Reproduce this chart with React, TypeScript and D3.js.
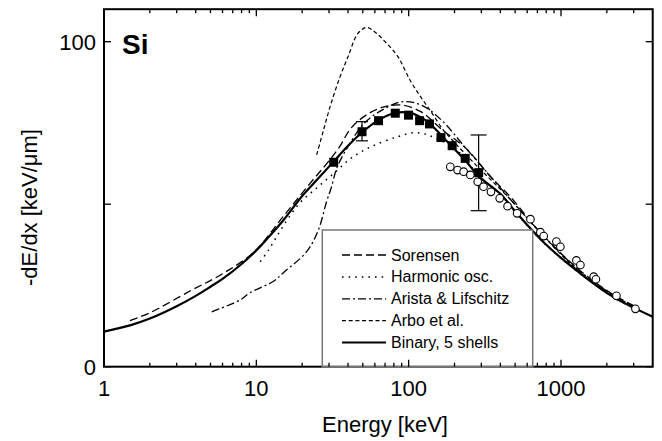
import React from 'react';
import * as d3 from 'd3';

// ---- data (energy in keV, stopping power in keV/µm) ----
const xTickLabels = [1, 10, 100, 1000];
const yTickLabels = [0, 100];
const yMinorTicks = [50];

const binary: [number, number][] = [
  [1, 10.8], [1.5, 12.8], [2, 14.8], [3, 18.6], [4, 21.8], [5, 24.6], [6, 27], [8, 31.6],
  [10, 35.8], [12, 39.8], [15, 45], [20, 52.5], [25, 57.5], [32, 63], [40, 68], [50, 72.3],
  [63, 75.8], [80, 78], [100, 78.2], [120, 76.8], [140, 74.5], [165, 71], [195, 67.5],
  [235, 63.5], [290, 58.5], [400, 53.2], [500, 47.8], [800, 37.5], [1340, 28.7], [2200, 21.5], [4000, 15.4],
];
const sorensen: [number, number][] = [
  [1.48, 14.2], [2, 16.6], [3.67, 23.3], [6, 28.6], [9.6, 35.2], [15, 46.2], [22.6, 56.5], [29, 62.5],
  [35, 67.5], [42, 73.5], [55, 78], [70, 80], [90, 80.5], [120, 78.5], [165, 73], [240, 67],
  [344, 58.5], [465, 52.3], [700, 42.3], [1300, 30], [2200, 22.2], [3000, 18.8],
];
const harmonic: [number, number][] = [
  [10.6, 32.3], [12, 35.8], [13.6, 40], [16, 45.3], [19.4, 50.5], [24.9, 55], [32.3, 59.5],
  [42, 64.2], [56.8, 67.7], [85, 70.8], [109, 72], [130, 71.5], [150, 70.3], [180, 68.5],
  [220, 65.5], [290, 58.5], [400, 53], [500, 47.6], [800, 37.4], [1340, 28.6], [2200, 21.4], [3000, 18],
];
const arista: [number, number][] = [
  [5.1, 16.9], [7.8, 20.5], [9.1, 22.8], [12.9, 26.2], [15.1, 29], [21.4, 35.4], [25.5, 42],
  [29, 51], [31, 55], [34, 61.5], [40, 67.7], [51, 74.9], [66, 78.8], [90, 81.5], [121, 80.5],
  [164, 75.9], [233, 67.7], [331, 59.5], [449, 52.3], [700, 42.3], [1300, 29.8], [2200, 22], [3000, 18.6],
];
const arbo: [number, number][] = [
  [24.9, 65.2], [27.5, 72.5], [30.5, 80], [35, 88.5], [40, 95.4], [46.5, 102.6], [53, 104.4],
  [60, 103], [70, 100], [85, 95.4], [102, 88.2], [120, 83], [140, 78.5], [169, 72.8], [200, 69],
  [280, 61.8], [465, 51.5], [700, 42.2], [1300, 29.5], [2200, 22], [3000, 18.5],
];
const squares: [number, number][] = [
  [32.2, 62.9], [49.4, 72.3], [63.4, 75.7], [81.7, 78], [99.8, 77.4], [118, 75.7], [137, 74.7],
  [163, 70.5], [193, 68], [235, 64.1], [288, 59.7],
];
const circles: [number, number][] = [
  [187.6, 61.5], [209.6, 60.5], [229.5, 60], [254, 59], [284, 56.9], [310, 55.4], [347, 53.8],
  [396, 51.8], [446, 49.4], [515, 47.2], [630, 45.4], [732, 41.4], [770, 40.2], [933, 38.5],
  [991, 36.9], [1262, 32.7], [1341, 31.3], [1640, 27.7], [1695, 26.9], [2312, 21.8], [3080, 17.8],
];
// [energy, low, high]
const errorBars: [number, number, number][] = [
  [49.4, 69.5, 75.4],
  [288, 48, 71.3],
];
const legendLabels = ['Sorensen', 'Harmonic osc.', 'Arista & Lifschitz', 'Arbo et al.', 'Binary, 5 shells'];

const W = 662, H = 441;
const L = 104, R = 652.7, T = 9.2, B = 366.7;
const FONT = 'Liberation Sans, Arial, Helvetica, sans-serif';

const styles = [
  { dash: '8,4', w: 1.3 },
  { dash: '1.6,5', w: 1.5 },
  { dash: '8,3,2,3', w: 1.3 },
  { dash: '4,2.7', w: 1.2 },
  { dash: '', w: 2.2 },
];

export default function App() {
  const x = d3.scaleLog().domain([1, 4000]).range([L, R]);
  const y = d3.scaleLinear().domain([0, 110]).range([B, T]);
  const line = d3
    .line<[number, number]>()
    .x((d) => x(d[0]))
    .y((d) => y(d[1]))
    .curve(d3.curveCatmullRom.alpha(0.5));

  const series = [sorensen, harmonic, arista, arbo, binary];
  const xt = x.ticks().filter((v) => v >= 1 && v <= 3500);
  const isMajor = (v: number) => Math.abs(Math.log10(v) - Math.round(Math.log10(v))) < 1e-9;

  const legX1 = 342, legX2 = 386, legTextX = 391, legY0 = 255, legDy = 21.9;
  const boxL = 322.3, boxR = 532.7, boxT = 230;

  return (
    <svg width={W} height={H} style={{ position: 'absolute', left: 0, top: 0, background: '#fff' }}>
      <rect x={0} y={0} width={W} height={H} fill="#fff" />
      {/* curves */}
      {series.map((s, i) => (
        <path key={i} d={line(s) || ''} fill="none" stroke="#000" strokeWidth={styles[i].w}
          strokeDasharray={styles[i].dash || undefined} />
      ))}
      {/* error bars */}
      {errorBars.map(([e, lo, hi], i) => {
        const cx = x(e);
        const cw = i === 0 ? 6 : 8;
        return (
          <g key={i} stroke="#000" strokeWidth={1.2}>
            <line x1={cx} x2={cx} y1={y(lo)} y2={y(hi)} />
            <line x1={cx - cw} x2={cx + cw} y1={y(lo)} y2={y(lo)} />
            <line x1={cx - cw} x2={cx + cw} y1={y(hi)} y2={y(hi)} />
          </g>
        );
      })}
      {/* squares */}
      {squares.map(([e, v], i) => (
        <rect key={i} x={x(e) - 4.5} y={y(v) - 4.5} width={9} height={9} fill="#000" />
      ))}
      {/* circles */}
      {circles.map(([e, v], i) => (
        <circle key={i} cx={x(e)} cy={y(v)} r={3.8} fill="#fff" stroke="#000" strokeWidth={1.1} />
      ))}
      {/* frame */}
      <rect x={L} y={T} width={R - L} height={B - T} fill="none" stroke="#000" strokeWidth={2} />
      {/* legend (drawn over the bottom axis line) */}
      <rect x={boxL} y={boxT} width={boxR - boxL} height={B - boxT} fill="#fff" stroke="#777" strokeWidth={1.5} />
      <line x1={boxL - 0.75} x2={boxR + 0.75} y1={B} y2={B} stroke="#777" strokeWidth={2.2} />
      {legendLabels.map((lab, i) => (
        <g key={lab}>
          <line x1={legX1} x2={legX2} y1={legY0 + i * legDy} y2={legY0 + i * legDy} stroke="#000"
            strokeWidth={i === 4 ? 2 : styles[i].w} strokeDasharray={styles[i].dash || undefined} />
          <text x={legTextX} y={legY0 + i * legDy + 5.5} fontFamily={FONT} fontSize={16}>{lab}</text>
        </g>
      ))}
      {/* x ticks */}
      {xt.map((v, i) => {
        const px = x(v);
        const len = isMajor(v) ? 7 : 4;
        return (
          <g key={i} stroke="#000" strokeWidth={1.3}>
            <line x1={px} x2={px} y1={B} y2={B - len} />
            <line x1={px} x2={px} y1={T} y2={T + len} />
          </g>
        );
      })}
      {/* y ticks */}
      {[...yTickLabels, ...yMinorTicks].map((v, i) => (
        <g key={i} stroke="#000" strokeWidth={1.3}>
          <line x1={L} x2={L + 7} y1={y(v)} y2={y(v)} />
          <line x1={R} x2={R - 7} y1={y(v)} y2={y(v)} />
        </g>
      ))}
      {/* tick labels */}
      {xTickLabels.map((v) => (
        <text key={v} x={x(v)} y={396} textAnchor="middle" fontFamily={FONT} fontSize={22}>{v}</text>
      ))}
      {yTickLabels.map((v) => (
        <text key={v} x={96} y={y(v) + 8} textAnchor="end" fontFamily={FONT} fontSize={22}>{v}</text>
      ))}
      {/* axis titles */}
      <text x={385} y={432} textAnchor="middle" fontFamily={FONT} fontSize={22}>Energy [keV]</text>
      <text transform={`translate(37,207.5) rotate(-90)`} textAnchor="middle" fontFamily={FONT} fontSize={22}>
        -dE/dx [keV/μm]
      </text>
      <text x={122} y={54} fontFamily={FONT} fontSize={28} fontWeight="bold">Si</text>
    </svg>
  );
}
